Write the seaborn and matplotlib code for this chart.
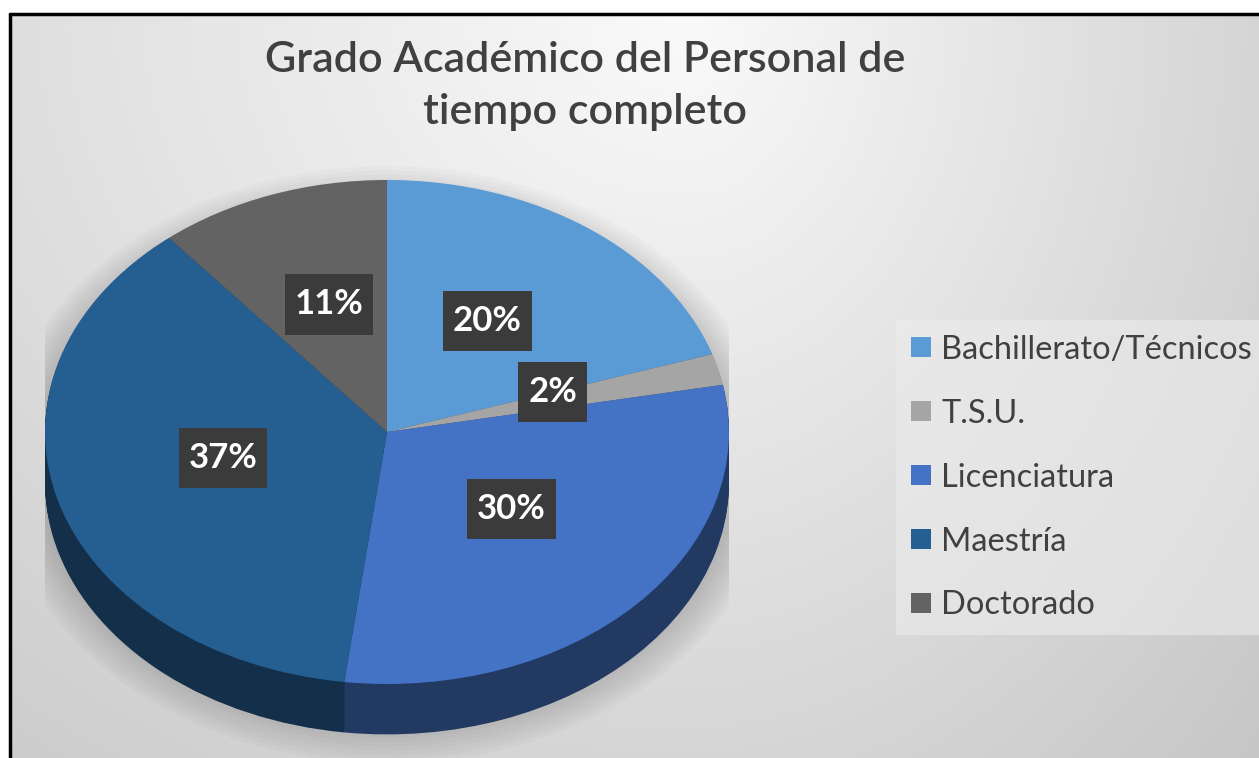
import numpy as np
import matplotlib
matplotlib.use("Agg")
import matplotlib.pyplot as plt
import matplotlib.transforms as mtransforms
from matplotlib.patches import Ellipse
import seaborn as sns

categories = ["Bachillerato/Técnicos", "T.S.U.", "Licenciatura", "Maestría", "Doctorado"]
values = [20, 2, 30, 37, 11]
title_text = "Grado Académico del Personal de\ntiempo completo"

sns.set_theme(style="white")
plt.rcParams["font.family"] = ["Lato", "DejaVu Sans"]

top_colors = sns.color_palette(["#5B9BD5", "#A5A5A5", "#4472C4", "#255E91", "#636363"])
side_colors = [tuple(c * 0.5 for c in col) for col in top_colors]

W, H = 1259, 758
fig = plt.figure(figsize=(W / 100, H / 100), dpi=100)

# background with border and gradient
bg = fig.add_axes([0, 0, 1, 1])
bg.set_xlim(0, W)
bg.set_ylim(H, 0)
bg.axis("off")
yy, xx = np.mgrid[0:H, 0:W]
dx = xx - 680.0
dx = np.where(dx > 0, dx * 1.6, dx)
dy = (yy - 0.0) * 1.2
v = 250 - 0.04 * np.sqrt(dx ** 2 + dy ** 2)
v = np.clip(v, 190, 252) / 255.0
img = np.dstack([v, v, v])
bg.imshow(img, extent=[11, W, H, 15], aspect="auto", zorder=0)
bg.plot([10, W], [14, 14], color="black", lw=2.5, zorder=2)
bg.plot([10, 10], [14, H], color="black", lw=2.5, zorder=2)

# pie axes: x in [-1,1] -> px 45..729 ; y scale ~252 px/unit
cx, cy, rx, ry = 387, 432, 342, 252
ylo, yhi = -1.3, 1.1
left_px = cx - rx
top_px = cy - yhi * ry
bot_px = cy - ylo * ry
ax = fig.add_axes([left_px / W, (H - bot_px) / H, 2 * rx / W, (bot_px - top_px) / H])
ax.patch.set_alpha(0)

# soft shadow
for k in range(12):
    e = 0.012 * k
    ax.add_patch(Ellipse((0.0, -0.13), 2 * (1.0 + e), 2 * (1.0 + e * 1.4),
                         facecolor="black", edgecolor="none", alpha=0.018, zorder=0))

depth = 0.2
for d in np.linspace(depth, 0.004, 40):
    ax.pie(values, colors=side_colors, center=(0, -d), radius=1, startangle=90,
           counterclock=False, wedgeprops=dict(linewidth=0))

wedges, _, autotexts = ax.pie(
    values, colors=top_colors, center=(0, 0), radius=1, startangle=90,
    counterclock=False, wedgeprops=dict(linewidth=0),
    autopct=lambda p: f"{p:.0f}%", pctdistance=0.5,
    textprops=dict(color="white", fontsize=25, fontweight="bold"))
lift = mtransforms.ScaledTranslation(0, 9 / 100, fig.dpi_scale_trans)
for t in autotexts:
    t.set_transform(t.get_transform() + lift)
    t.set_bbox(dict(boxstyle="square,pad=0.28", facecolor="#3b3b3b",
                    edgecolor="none", mutation_aspect=1.45))

ax.set_aspect("auto")
ax.set_xlim(-1, 1)
ax.set_ylim(ylo, yhi)
ax.axis("off")

fig.text(585 / W, 1 - 86 / H, title_text, ha="center", va="center",
         fontsize=31, fontweight="semibold", color="#404040", linespacing=1.45)

leg = fig.legend(wedges, categories, loc="upper left",
                 bbox_to_anchor=(896 / W, 1 - 320 / H), frameon=True,
                 fontsize=23.5, labelcolor="#404040",
                 handlelength=0.62, handleheight=0.54, handletextpad=0.32,
                 labelspacing=1.04, borderpad=0.45, borderaxespad=0)
leg.get_frame().set_facecolor("#ececec")
leg.get_frame().set_edgecolor("none")
leg.get_frame().set_alpha(0.6)
leg.get_frame().set_boxstyle("square", pad=0)

fig.savefig("out.png", dpi=100)
